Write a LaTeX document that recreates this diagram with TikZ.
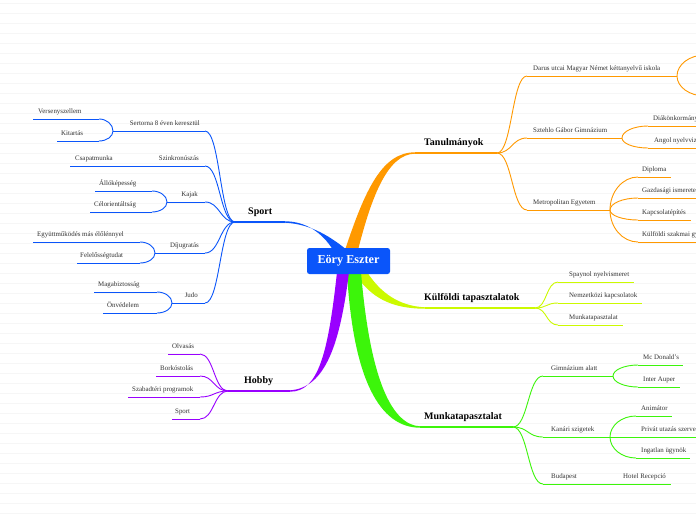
\documentclass[tikz,border=0pt]{standalone}
\usepackage{fontspec}
\setmainfont{Liberation Serif}
\usetikzlibrary{calc}
\definecolor{cblue}{RGB}{10,85,250}
\definecolor{corange}{RGB}{255,153,0}
\definecolor{cyellow}{RGB}{204,250,0}
\definecolor{cgreen}{RGB}{60,245,10}
\definecolor{cpurple}{RGB}{153,0,255}
\definecolor{txt}{RGB}{51,51,51}
\definecolor{bgl}{RGB}{246,246,246}
\tikzset{
  sub/.style={line width=0.9pt},
  trunk/.style={line width=1.3pt},
  lbl/.style={font=\fontsize{6.9}{8}\selectfont, text=txt, inner sep=0pt},
  mainlbl/.style={font=\bfseries\fontsize{10}{12}\selectfont, text=black, inner sep=0pt},
  rootbox/.style={fill=cblue, rounded corners=2.5pt, minimum width=83pt, minimum height=26pt,
    text=white, font=\bfseries\fontsize{12.2}{14}\selectfont, inner sep=0pt},
  bgline/.style={draw=bgl, line width=0.6pt}
}
% #1 name, #2 xl, #3 xr, #4 y, #5 colour, #6 anchor, #7 text x, #8 text
\newcommand\mmtopic[8]{%
  \coordinate (#1-L) at (#2,#4);
  \coordinate (#1-R) at (#3,#4);
  \draw[#5,sub] (#1-L) -- (#1-R);
  \node[lbl,anchor=#6] (#1) at (#7,#4-5.5) {#8};}
% S-shaped link: #1 colour, #2 from, #3 to, #4 horizontal control offset
\newcommand\mmlink[4]{\draw[#1,sub] (#2) .. controls ($(#2)+(#4,0)$) and ($(#3)-(#4,0)$) .. (#3);}
% quarter-ellipse bracket link from a fan point
\newcommand\mmfan[3]{\draw[#1,sub] (#2) .. controls ($(#2)!0.55!(#2 |- #3)$) and ($(#3)!0.55!(#2 |- #3)$) .. (#3);}
\begin{document}
\begin{tikzpicture}[x=1pt,y=-1pt]
\useasboundingbox (0,0) rectangle (696,520);
\clip (0,0) rectangle (696,520);
\fill[white] (0,0) rectangle (696,520);
\foreach \yy in {3,13,...,513} \draw[bgline] (0,\yy) -- (696,\yy);

% ---------- main trunks ----------
\coordinate (tan-L) at (415,153);  \coordinate (tan-R) at (497,153);
\coordinate (sport-L) at (235,222); \coordinate (sport-R) at (285,222);
\coordinate (kulf-L) at (425,308); \coordinate (kulf-R) at (535,308);
\coordinate (munka-L) at (420,427); \coordinate (munka-R) at (513,427);
\coordinate (hobby-L) at (228,391); \coordinate (hobby-R) at (290,391);

\fill[corange] (345,250) .. controls (365,190) and (382,152.3) .. ($(tan-L)+(0,-0.7)$) -- ($(tan-L)+(0,0.7)$) .. controls (388,154) and (372,195) .. (358,250) -- cycle;
\fill[cblue] (333,250) .. controls (322,232) and (305,221.3) .. ($(sport-R)+(0,-0.7)$) -- ($(sport-R)+(0,0.7)$) .. controls (312,224) and (332,238) .. (347,250) -- cycle;
\fill[cyellow] (354,272) .. controls (370,298) and (392,308.7) .. ($(kulf-L)+(0,0.7)$) -- ($(kulf-L)+(0,-0.7)$) .. controls (398,306) and (380,292) .. (367,272) -- cycle;
\fill[cgreen] (347,272) .. controls (353,380) and (380,427.7) .. ($(munka-L)+(0,0.7)$) -- ($(munka-L)+(0,-0.7)$) .. controls (392,425) and (370,380) .. (361,272) -- cycle;
\fill[cpurple] (337,272) .. controls (328,355) and (318,391.7) .. ($(hobby-R)+(0,0.7)$) -- ($(hobby-R)+(0,-0.7)$) .. controls (325,388) and (340,345) .. (349,272) -- cycle;

\draw[corange,trunk] (tan-L) -- (tan-R);
\draw[cblue,trunk] (sport-R) -- (sport-L);
\draw[cyellow,trunk] (kulf-L) -- (kulf-R);
\draw[cgreen,trunk] (munka-L) -- (munka-R);
\draw[cpurple,trunk] (hobby-R) -- (hobby-L);

\node[rootbox] (root) at (348.5,261) {Eöry Eszter};
\node[mainlbl,anchor=base west] (tan) at (424,145) {Tanulmányok};
\node[mainlbl,anchor=base west] (kulf) at (424,300) {Külföldi tapasztalatok};
\node[mainlbl,anchor=base west] (munka) at (424,419) {Munkatapasztalat};
\node[mainlbl,anchor=base west] (sport) at (248,214) {Sport};
\node[mainlbl,anchor=base west] (hobby) at (244,383) {Hobby};

% ---------- Sport ----------
\mmtopic{sert}{113}{205}{131}{cblue}{base east}{200}{Sertorna 8 éven keresztül}
\mmtopic{vers}{33}{99}{119}{cblue}{base west}{38}{Versenyszellem}
\mmtopic{kit}{57}{99}{141}{cblue}{base west}{61}{Kitartás}
\mmtopic{szink}{150}{205}{166}{cblue}{base east}{199}{Szinkronúszás}
\mmtopic{csap}{70}{150}{166}{cblue}{base west}{75}{Csapatmunka}
\mmtopic{kajak}{167}{205}{202}{cblue}{base east}{198}{Kajak}
\mmtopic{allo}{95}{152}{191}{cblue}{base west}{99}{Állóképesség}
\mmtopic{cel}{90}{152}{212}{cblue}{base west}{94}{Célorientáltság}
\mmtopic{dij}{155}{205}{253}{cblue}{base east}{199}{Díjugratás}
\mmtopic{egy}{33}{140}{242}{cblue}{base west}{37}{Együttműködés más élőlénnyel}
\mmtopic{fel}{77}{140}{263}{cblue}{base west}{80}{Felelősségtudat}
\mmtopic{judo}{172}{205}{303}{cblue}{base east}{198}{Judo}
\mmtopic{maga}{94}{157}{292}{cblue}{base west}{98}{Magabiztosság}
\mmtopic{onv}{103}{157}{313}{cblue}{base west}{107}{Önvédelem}

\mmlink{cblue}{sport-L}{sert-R}{-15}
\mmlink{cblue}{sport-L}{szink-R}{-15}
\mmlink{cblue}{sport-L}{kajak-R}{-15}
\mmlink{cblue}{sport-L}{dij-R}{-15}
\mmlink{cblue}{sport-L}{judo-R}{-15}
\mmfan{cblue}{sert-L}{vers-R}
\mmfan{cblue}{sert-L}{kit-R}
\mmfan{cblue}{kajak-L}{allo-R}
\mmfan{cblue}{kajak-L}{cel-R}
\mmfan{cblue}{dij-L}{egy-R}
\mmfan{cblue}{dij-L}{fel-R}
\mmfan{cblue}{judo-L}{maga-R}
\mmfan{cblue}{judo-L}{onv-R}

% ---------- Hobby ----------
\mmtopic{olv}{168}{200}{354}{cpurple}{base west}{172}{Olvasás}
\mmtopic{bor}{156}{200}{376}{cpurple}{base west}{160}{Borkóstolás}
\mmtopic{szab}{128}{200}{397}{cpurple}{base west}{132}{Szabadtéri programok}
\mmtopic{hsport}{172}{200}{419}{cpurple}{base west}{175}{Sport}
\mmlink{cpurple}{hobby-L}{olv-R}{-14}
\mmlink{cpurple}{hobby-L}{bor-R}{-14}
\mmlink{cpurple}{hobby-L}{szab-R}{-14}
\mmlink{cpurple}{hobby-L}{hsport-R}{-14}

% ---------- Tanulmányok ----------
\mmtopic{darus}{527}{677}{76}{corange}{base west}{533}{Darus utcai Magyar Német kéttanyelvű iskola}
\coordinate (darA) at (705,55);
\coordinate (darB) at (705,96);
\mmfan{corange}{darus-R}{darA}
\mmfan{corange}{darus-R}{darB}
\mmtopic{szte}{527}{622}{138}{corange}{base west}{533}{Sztehlo Gábor Gimnázium}
\mmtopic{diak}{648}{720}{126}{corange}{base west}{653}{Diákönkormányzat}
\mmtopic{angol}{648}{720}{148}{corange}{base west}{654}{Angol nyelvvizsga}
\mmtopic{metro}{527}{610}{210}{corange}{base west}{533}{Metropolitan Egyetem}
\mmtopic{dipl}{638}{671}{177}{corange}{base west}{642}{Diploma}
\mmtopic{gazd}{638}{720}{198}{corange}{base west}{642}{Gazdasági ismeretek}
\mmtopic{kapcs}{638}{691}{220}{corange}{base west}{642}{Kapcsolatépítés}
\mmtopic{kszak}{638}{720}{242}{corange}{base west}{642}{Külföldi szakmai gyakorlat}
\mmlink{corange}{tan-R}{darus-L}{15}
\mmlink{corange}{tan-R}{szte-L}{15}
\mmlink{corange}{tan-R}{metro-L}{15}
\mmfan{corange}{szte-R}{diak-L}
\mmfan{corange}{szte-R}{angol-L}
\mmfan{corange}{metro-R}{dipl-L}
\mmfan{corange}{metro-R}{gazd-L}
\mmfan{corange}{metro-R}{kapcs-L}
\mmfan{corange}{metro-R}{kszak-L}

% ---------- Külföldi tapasztalatok ----------
\mmtopic{span}{558}{634}{282}{cyellow}{base west}{569}{Spaynol nyelvismeret}
\mmtopic{nemz}{558}{642}{303}{cyellow}{base west}{569}{Nemzetközi kapcsolatok}
\mmtopic{kmunka}{558}{623}{325}{cyellow}{base west}{569}{Munkatapasztalat}
\mmlink{cyellow}{kulf-R}{span-L}{12}
\mmlink{cyellow}{kulf-R}{nemz-L}{12}
\mmlink{cyellow}{kulf-R}{kmunka-L}{12}

% ---------- Munkatapasztalat ----------
\mmtopic{gimn}{543}{613}{376}{cgreen}{base west}{551}{Gimnázium alatt}
\mmtopic{mcd}{638}{683}{365}{cgreen}{base west}{643}{Mc Donald's}
\mmtopic{inter}{638}{680}{387}{cgreen}{base west}{643}{Inter Auper}
\mmtopic{kan}{543}{610}{437}{cgreen}{base west}{551}{Kanári szigetek}
\mmtopic{anim}{636}{672}{416}{cgreen}{base west}{641}{Animátor}
\mmtopic{priv}{610}{720}{437}{cgreen}{base west}{641}{Privát utazás szervezés}
\mmtopic{ingat}{636}{690}{458}{cgreen}{base west}{641}{Ingatlan ügynök}
\mmtopic{buda}{543}{620}{484}{cgreen}{base west}{551}{Budapest}
\mmtopic{hotel}{620}{671}{484}{cgreen}{base west}{623}{Hotel Recepció}
\mmlink{cgreen}{munka-R}{gimn-L}{15}
\mmlink{cgreen}{munka-R}{kan-L}{15}
\mmlink{cgreen}{munka-R}{buda-L}{15}
\mmfan{cgreen}{gimn-R}{mcd-L}
\mmfan{cgreen}{gimn-R}{inter-L}
\mmfan{cgreen}{kan-R}{anim-L}
\mmfan{cgreen}{kan-R}{ingat-L}
\end{tikzpicture}
\end{document}
